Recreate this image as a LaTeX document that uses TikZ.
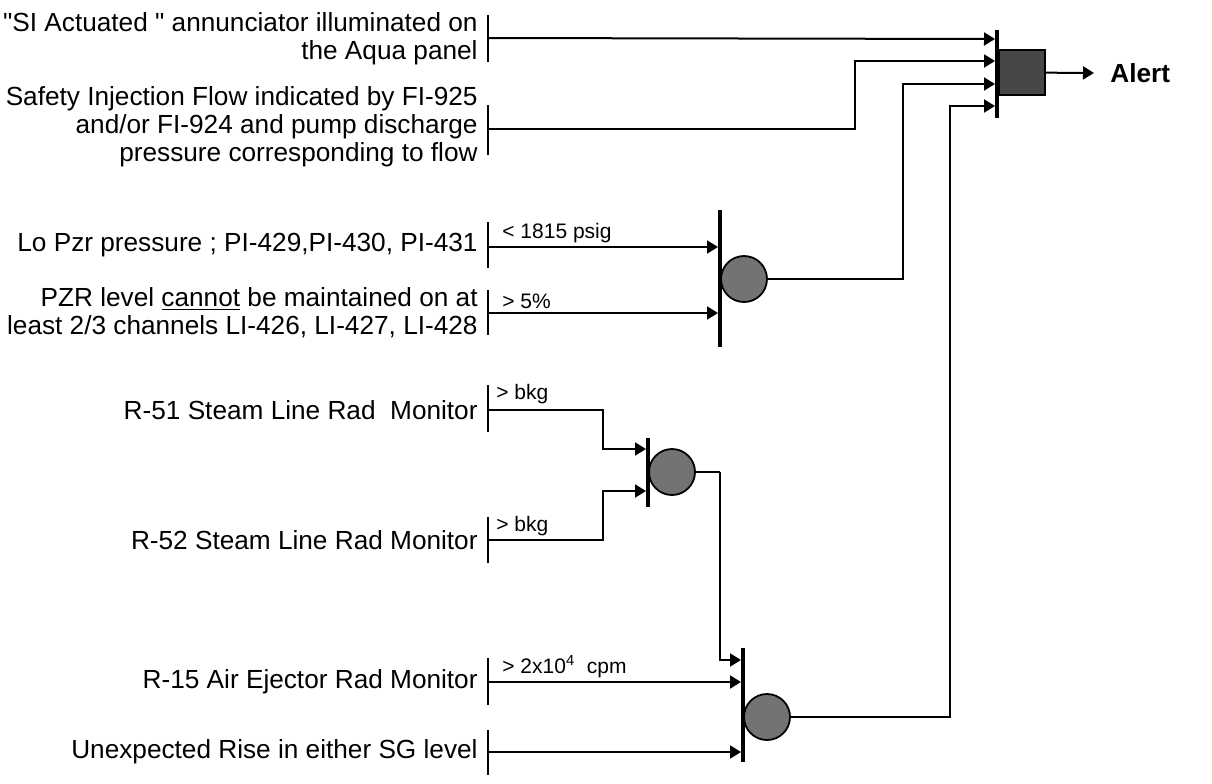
\documentclass[tikz,border=0pt]{standalone}
\usepackage{fontspec}
\setmainfont{Liberation Sans}[Ligatures=TeXOff]
\usetikzlibrary{arrows.meta}
\begin{document}
\begin{tikzpicture}[x=0.5pt,y=-0.5pt,
  conn/.style={line width=1pt},
  arr/.style={conn,-{Triangle[length=5.5pt,width=6.5pt]}},
  inbar/.style={line width=1.1pt},
  gatebar/.style={line width=1.8pt},
  intext/.style={anchor=east,align=right,inner sep=0pt,font=\fontsize{13.1}{14}\selectfont},
  cond/.style={anchor=south west,inner sep=0pt,font=\fontsize{10.5}{11}\selectfont},
  andgate/.style={circle,draw=black,line width=0.9pt,fill=black!55,minimum size=23pt,inner sep=0pt},
  orgate/.style={rectangle,draw=black,line width=0.9pt,fill=black!72,minimum width=23pt,minimum height=22.5pt,inner sep=0pt},
]
\useasboundingbox (0,0) rectangle (1212,783);

% input texts
\node[intext] (t1) at (478,39) {"SI Actuated " annunciator illuminated on\\the Aqua panel};
\node[intext] (t2) at (478,127) {Safety Injection Flow indicated by FI-925\\and/or FI-924 and pump discharge\\pressure corresponding to flow};
\node[intext] (t3) at (478,245) {Lo Pzr pressure ; PI-429,PI-430, PI-431};
\node[intext] (t4) at (478,313) {PZR level \underline{cannot} be maintained on at\\least 2/3 channels LI-426, LI-427, LI-428};
\node[intext] (t5) at (478,410) {R-51 Steam Line Rad\ \ Monitor};
\node[intext] (t6) at (478,540) {R-52 Steam Line Rad Monitor};
\node[intext] (t7) at (478,682) {R-15 Air Ejector Rad Monitor};
\node[intext] (t8) at (478,752) {Unexpected Rise in either SG level};

% input bars
\draw[inbar] (488,15) -- (488,62);
\draw[inbar] (488,105) -- (488,155);
\draw[inbar] (488,222) -- (488,268);
\draw[inbar] (488,290) -- (488,335);
\draw[inbar] (488,385) -- (488,432);
\draw[inbar] (488,517) -- (488,563);
\draw[inbar] (488,658) -- (488,705);
\draw[inbar] (488,730) -- (488,775);

% input start points
\coordinate (i1) at (488,38);
\coordinate (i2) at (488,129);
\coordinate (i3) at (488,247);
\coordinate (i4) at (488,313);
\coordinate (i5) at (488,410);
\coordinate (i6) at (488,540);
\coordinate (i7) at (488,682);
\coordinate (i8) at (488,752);

% condition labels
\node[cond] (l3) at (502,243) {< 1815 psig};
\node[cond] (l4) at (502,309) {> 5\%};
\node[cond] (l5) at (496,404) {> bkg};
\node[cond] (l6) at (496,536) {> bkg};
\node[cond] (l7) at (502,678) {> 2x10\textsuperscript{4}\ \ cpm};

% gate bars
\draw[gatebar] (997,30) -- (997,118);
\draw[gatebar] (720,210) -- (720,347);
\draw[gatebar] (648,438) -- (648,507);
\draw[gatebar] (743,648) -- (743,762);

% gate input points
\coordinate (g0a) at (995,39);
\coordinate (g0b) at (995,61);
\coordinate (g0c) at (995,84);
\coordinate (g0d) at (995,106);
\coordinate (g1a) at (718,247);
\coordinate (g1b) at (718,313);
\coordinate (g2a) at (646,449);
\coordinate (g2b) at (646,491);
\coordinate (g3a) at (741,660);
\coordinate (g3b) at (741,682);
\coordinate (g3c) at (741,752);

% gates
\node[orgate] (box) at (1022,72.5) {};
\node[andgate] (c1) at (744,279) {};
\node[andgate] (c2) at (672,472) {};
\node[andgate] (c3) at (767,717) {};

% bend points
\coordinate (k2) at (855,129);
\coordinate (k5) at (603,410);
\coordinate (k6) at (603,540);
\coordinate (j1) at (903,279);
\coordinate (j2) at (720,472);
\coordinate (j3) at (950,717);

% connectors
\draw[arr] (i1) -- (g0a);
\draw[arr] (i2) -- (k2) |- (g0b);
\draw[arr] (i3) -- (g1a);
\draw[arr] (i4) -- (g1b);
\draw[arr] (i5) -- (k5) |- (g2a);
\draw[arr] (i6) -- (k6) |- (g2b);
\draw[arr] (i7) -- (g3b);
\draw[arr] (i8) -- (g3c);
\draw[arr] (c1) -- (j1) |- (g0c);
\draw[conn] (c2) -- (j2);
\draw[arr] (j2) |- (g3a);
\draw[arr] (c3) -- (j3) |- (g0d);

% output
\node[anchor=west,inner sep=0pt,font=\fontsize{13.1}{14}\selectfont\bfseries] (alert) at (1110,73) {Alert};
\draw[arr] (box) -- ([xshift=-8pt]alert.west);
\end{tikzpicture}
\end{document}
